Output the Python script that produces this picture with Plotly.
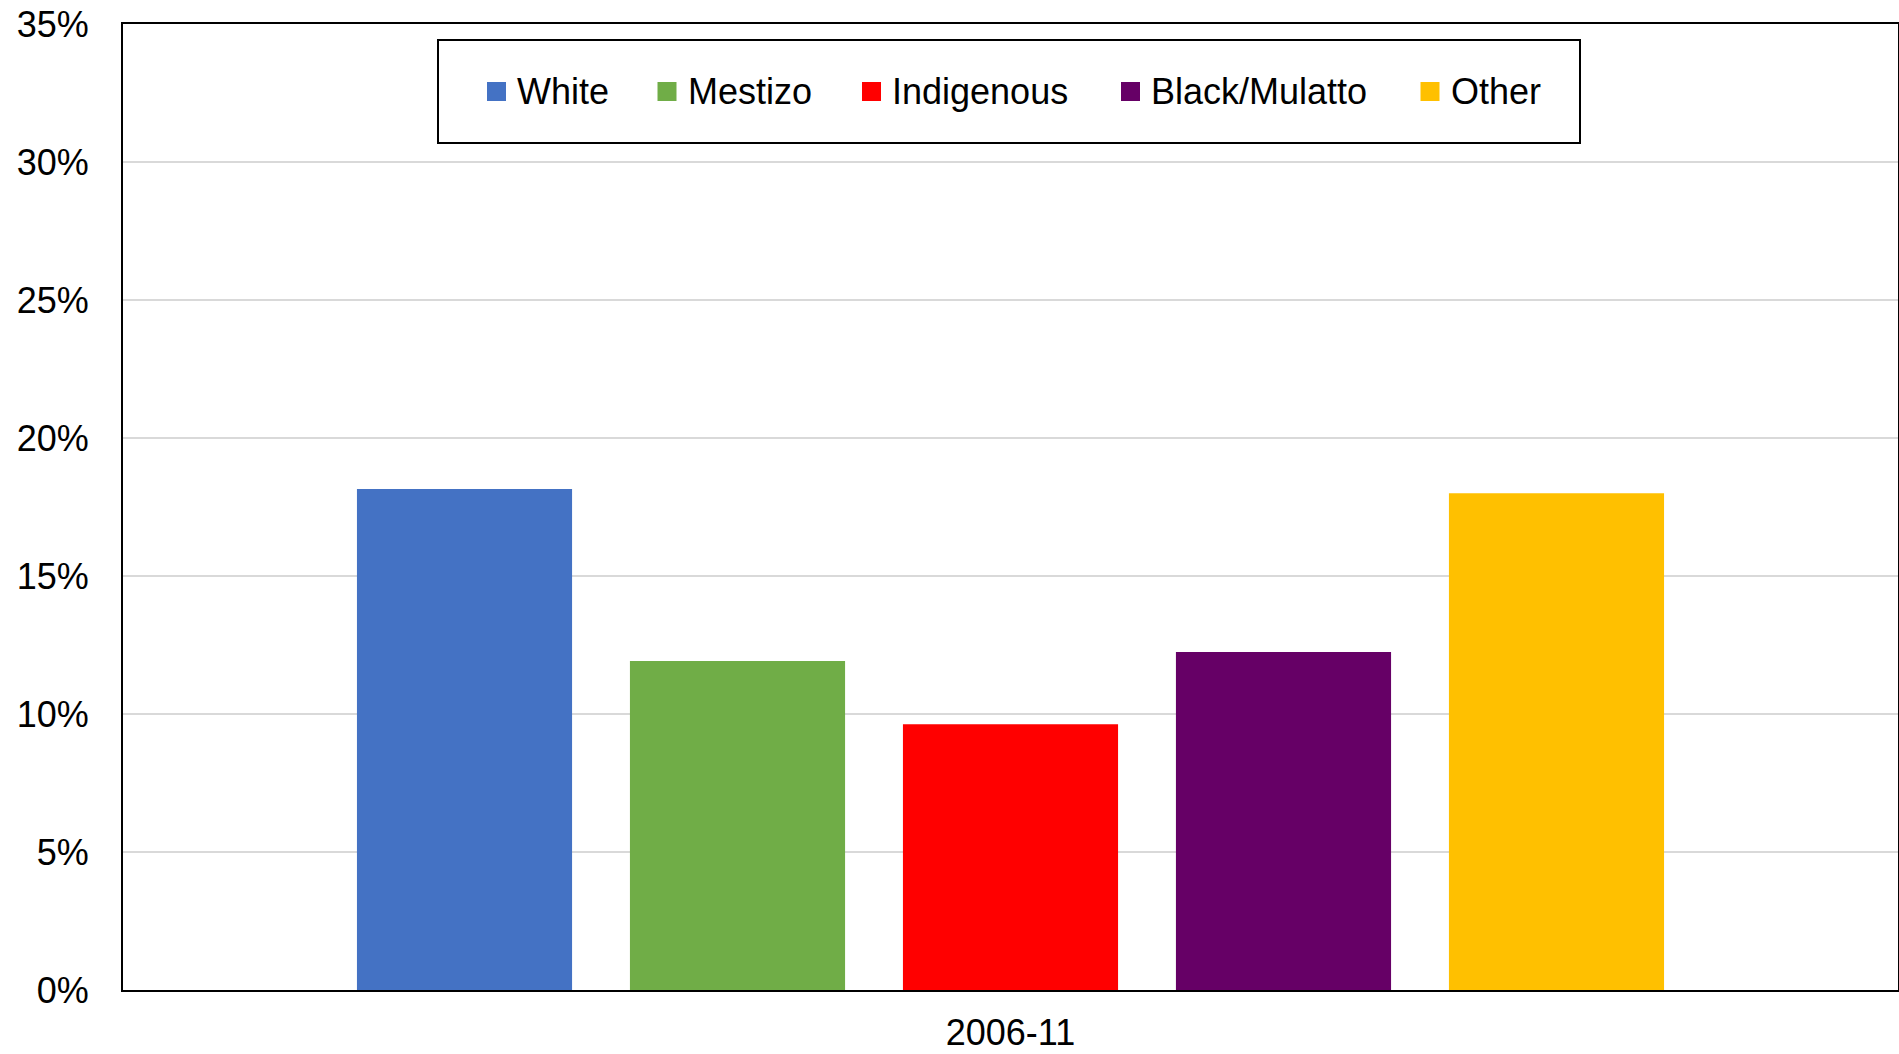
import plotly.graph_objects as go

categories = ["2006-11"]
series_names = ["White", "Mestizo", "Indigenous", "Black/Mulatto", "Other"]
series_values = [18.15, 11.92, 9.63, 12.25, 18.0]
series_colors = ["#4472C4", "#70AD47", "#FF0000", "#660066", "#FFC000"]
y_ticks = [0, 5, 10, 15, 20, 25, 30, 35]
y_tick_labels = ["0%", "5%", "10%", "15%", "20%", "25%", "30%", "35%"]

FONT = "Liberation Sans, Arial, sans-serif"
W, H = 1899, 1054
ML, MR, MT, MB = 123, 1, 24, 64
PW, PH = W - ML - MR, H - MT - MB


def px_x(px):
    return (px - ML) / PW


def px_y(py):
    return 1 - (py - MT) / PH


fig = go.Figure()
for name, val, col in zip(series_names, series_values, series_colors):
    fig.add_trace(go.Bar(x=categories, y=[val], name=name,
                         marker=dict(color=col, line=dict(width=0)),
                         showlegend=False))

# custom legend (box, swatches, labels), in pixels
legend_marker_left = [487, 657.5, 862, 1121, 1420.5]
legend_box = dict(x0=438, x1=1580, y0=40, y1=143)
legend_cy = 91.5
sw = 19
shapes = [dict(type="rect", xref="paper", yref="paper",
               x0=px_x(legend_box["x0"]), x1=px_x(legend_box["x1"]),
               y0=px_y(legend_box["y1"]), y1=px_y(legend_box["y0"]),
               line=dict(color="black", width=2), fillcolor="white", layer="above")]
annotations = []
for name, col, mx in zip(series_names, series_colors, legend_marker_left):
    shapes.append(dict(type="rect", xref="paper", yref="paper",
                       x0=px_x(mx), x1=px_x(mx + sw),
                       y0=px_y(legend_cy + sw / 2), y1=px_y(legend_cy - sw / 2),
                       line=dict(width=0), fillcolor=col, layer="above"))
    annotations.append(dict(text=name, xref="paper", yref="paper",
                            x=px_x(mx + 28), y=px_y(legend_cy),
                            xanchor="left", yanchor="middle", showarrow=False,
                            font=dict(family=FONT, size=36, color="black")))

fig.update_layout(
    width=W, height=H,
    margin=dict(l=ML, r=MR, t=MT, b=MB),
    paper_bgcolor="white", plot_bgcolor="white",
    barmode="group", bargap=0.231, bargroupgap=0.212,
    font=dict(family=FONT, size=36, color="black"),
    showlegend=False,
    shapes=shapes,
    annotations=annotations,
)
fig.update_xaxes(
    type="category", automargin=False, range=[-0.5, 0.5],
    showline=True, linecolor="black", linewidth=2, mirror=True,
    showgrid=False, ticks="", ticklabelstandoff=10, ticklabeloverflow="allow",
    tickfont=dict(family=FONT, size=36, color="black"),
)
fig.update_yaxes(
    range=[0, 35], tickvals=y_ticks, ticktext=y_tick_labels, automargin=False,
    showline=True, linecolor="black", linewidth=2, mirror=True,
    showgrid=True, gridcolor="#D9D9D9", gridwidth=1.5,
    zeroline=False, ticks="", ticklabelstandoff=25, ticklabeloverflow="allow",
    tickfont=dict(family=FONT, size=36, color="black"),
)

fig.write_html(
    "out.html",
    config={"displayModeBar": False},
    post_script="document.body.style.margin='0';document.body.style.overflow='hidden';",
)
